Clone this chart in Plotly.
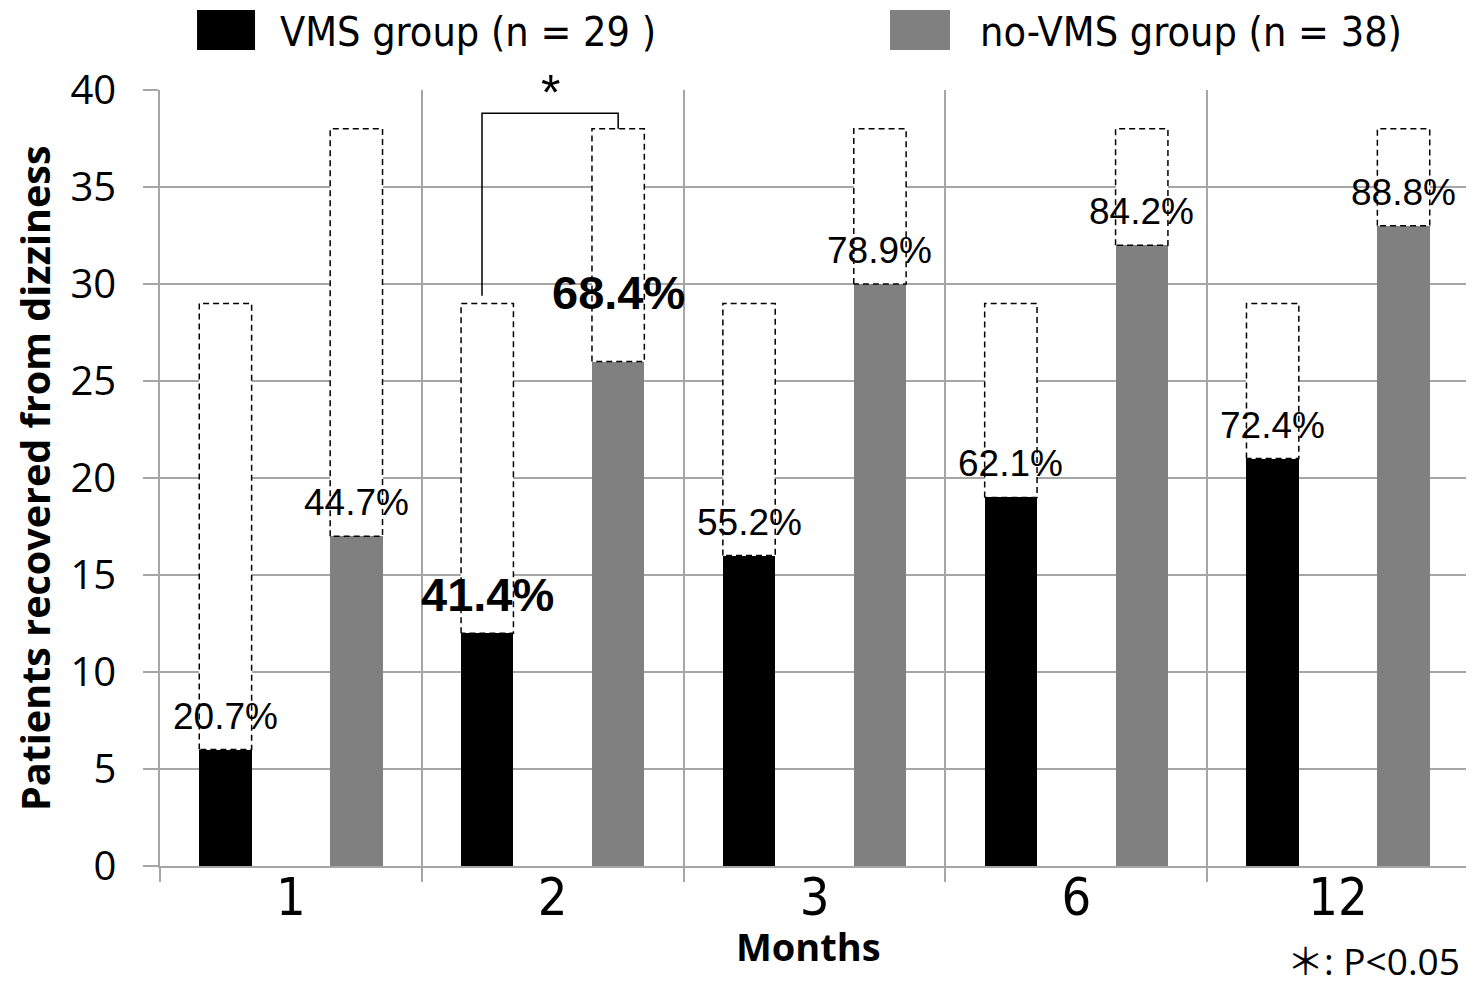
import plotly.graph_objects as go

# ---------------- data ----------------
months = ["1", "2", "3", "6", "12"]
vms_recovered = [6, 12, 16, 19, 21]
novms_recovered = [17, 26, 30, 32, 33]
vms_n = 29
novms_n = 38
vms_labels = ["20.7%", "41.4%", "55.2%", "62.1%", "72.4%"]
novms_labels = ["44.7%", "68.4%", "78.9%", "84.2%", "88.8%"]
sig_month_index = 1  # month 2 significant
legend_names = ["VMS group (n = 29 )", "no-VMS group (n = 38)"]

# ---------------- layout constants ----------------
BAR_W = 0.2
OFF = 0.25
BLACK = "#000000"
GRAY = "#808080"
GRID = "#a6a6a6"
SANS = "Liberation Sans, Arial, sans-serif"
NARROW = "Liberation Sans Narrow, DejaVu Sans Condensed, sans-serif"
CAL = "Open Sans, Lato, sans-serif"

idx = list(range(len(months)))
vms_x = [i - OFF for i in idx]
nov_x = [i + OFF for i in idx]

fig = go.Figure()

# white "total" bars
fig.add_bar(x=vms_x, y=[vms_n] * len(idx), width=BAR_W, marker=dict(color="white", line=dict(width=0)),
            hoverinfo="skip", showlegend=False)
fig.add_bar(x=nov_x, y=[novms_n] * len(idx), width=BAR_W, marker=dict(color="white", line=dict(width=0)),
            hoverinfo="skip", showlegend=False)
# recovered bars
fig.add_bar(x=vms_x, y=vms_recovered, width=BAR_W, marker=dict(color=BLACK, line=dict(width=0)),
            name=legend_names[0], showlegend=False)
fig.add_bar(x=nov_x, y=novms_recovered, width=BAR_W, marker=dict(color=GRAY, line=dict(width=0)),
            name=legend_names[1], showlegend=False)


def outline(xs, fills, total):
    ox, oy = [], []
    for x, f in zip(xs, fills):
        x0, x1 = x - BAR_W / 2, x + BAR_W / 2
        ox += [x0, x0, x1, x1, x0, None]
        oy += [f, total, total, f, f, None]
    return ox, oy


for xs, fills, tot in [(vms_x, vms_recovered, vms_n), (nov_x, novms_recovered, novms_n)]:
    ox, oy = outline(xs, fills, tot)
    fig.add_scatter(x=ox, y=oy, mode="lines", line=dict(color="black", width=1.5, dash="6px,4px"),
                    hoverinfo="skip", showlegend=False)

# significance bracket (month 2)
bx0 = vms_x[sig_month_index] - 0.02
bx1 = nov_x[sig_month_index]
btop = novms_n + 0.8
fig.add_scatter(x=[bx0, bx0, bx1, bx1], y=[vms_n + 0.4, btop, btop, novms_n], mode="lines",
                line=dict(color="black", width=1.5), hoverinfo="skip", showlegend=False, cliponaxis=False)

annotations = []
annotations.append(dict(x=(bx0 + bx1) / 2, y=btop, xref="x", yref="y", text="*", showarrow=False,
                        yanchor="bottom", yshift=-10, font=dict(family=SANS, size=50, color="black")))

# percentage labels
for i in idx:
    bold = (i == sig_month_index)
    for xs, vals, labs, extra in [(vms_x, vms_recovered, vms_labels, 0),
                                  (nov_x, novms_recovered, novms_labels, 31 if bold else 0)]:
        txt = labs[i]
        annotations.append(dict(
            x=xs[i], y=vals[i], xref="x", yref="y",
            text=f"<b>{txt}</b>" if bold else txt,
            showarrow=False, yanchor="bottom", yshift=(10 if bold else 11) + extra,
            font=dict(family=SANS, size=47 if bold else 37, color="black")))

# axis titles
annotations.append(dict(x=0.4955, y=-0.103, xref="paper", yref="paper", text="<b>Months</b>",
                        showarrow=False, xanchor="center", yanchor="middle",
                        font=dict(family=CAL, size=38, color="black")))
annotations.append(dict(x=-0.0955, y=0.5, xref="paper", yref="paper",
                        text="<b>Patients recovered from dizziness</b>", textangle=-90,
                        showarrow=False, xanchor="center", yanchor="middle",
                        font=dict(family=CAL, size=39.5, color="black")))
# footnote
annotations.append(dict(x=0.9947, y=-0.122, xref="paper", yref="paper", text="＊: P<0.05",
                        showarrow=False, xanchor="right", yanchor="middle",
                        font=dict(family=CAL + ", Noto Sans CJK JP", size=37, color="black")))

# legend (manual)
shapes = [
    dict(type="rect", xref="paper", yref="paper", x0=0.0283, x1=0.0726, y0=1.0515, y1=1.1031,
         fillcolor=BLACK, line=dict(width=0)),
    dict(type="rect", xref="paper", yref="paper", x0=0.5577, x1=0.6035, y0=1.0515, y1=1.1031,
         fillcolor=GRAY, line=dict(width=0)),
]
annotations.append(dict(x=0.0901, y=1.0745, xref="paper", yref="paper", text=legend_names[0],
                        showarrow=False, xanchor="left", yanchor="middle",
                        font=dict(family=NARROW, size=41, color="black")))
annotations.append(dict(x=0.6249, y=1.0745, xref="paper", yref="paper", text=legend_names[1],
                        showarrow=False, xanchor="left", yanchor="middle",
                        font=dict(family=NARROW, size=41, color="black")))

boundaries = [i - 0.5 for i in idx] + [idx[-1] + 0.5]

# the page body adds an 8px offset; compensate so the plot area lands where the reference has it
fig.update_layout(
    width=1466, height=977,
    margin=dict(l=152, r=5, t=82, b=119),
    paper_bgcolor="white", plot_bgcolor="white",
    barmode="overlay", bargap=0,
    showlegend=False,
    annotations=annotations,
    shapes=shapes,
    xaxis=dict(
        range=[-0.5, len(idx) - 0.5], tickmode="array", tickvals=idx, ticktext=months,
        ticks="", showgrid=False, zeroline=False,
        showline=True, linecolor=GRID, linewidth=1.5,
        ticklabelstandoff=-15,
        tickfont=dict(family=NARROW, size=52, color="black"),
        minor=dict(tickmode="array", tickvals=boundaries, ticks="outside", ticklen=14,
                   tickcolor=GRID, tickwidth=1.5, showgrid=True, gridcolor=GRID, gridwidth=1.5),
    ),
    yaxis=dict(
        range=[0, 40], tickmode="linear", tick0=0, dtick=5,
        showgrid=True, gridcolor=GRID, gridwidth=1.5, zeroline=False,
        showline=True, linecolor=GRID, linewidth=1.5,
        ticks="outside", ticklen=15, tickcolor=GRID, tickwidth=1.5,
        ticklabelstandoff=19,
        tickfont=dict(family=CAL, size=40, color="black"),
    ),
)

fig.write_html("out.html")
